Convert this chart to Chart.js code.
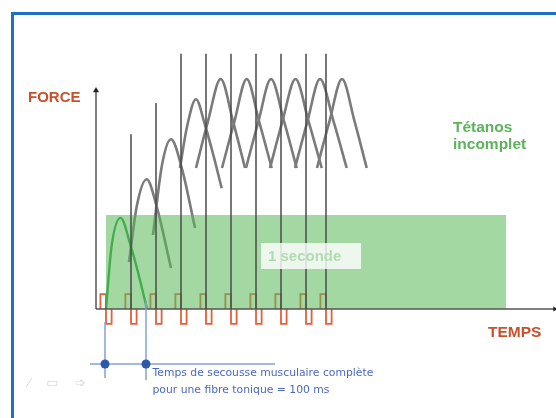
<!DOCTYPE html>
<html>
<head>
<meta charset="utf-8">
<style>
  html, body { margin: 0; padding: 0; background: #fff; overflow: hidden; }
  #wrap { position: relative; width: 556px; height: 418px; overflow: hidden; }
  #frame { position: absolute; left: 11px; top: 12px; width: 700px; height: 600px;
           border-left: 3px solid #1f6fc6; border-top: 3px solid #1f6fc6; }
  canvas { position: absolute; left: 0; top: 0; }
  .lbl { position: absolute; white-space: nowrap; font-family: "Liberation Sans", Arial, sans-serif; font-weight: bold; }
  #force { left: 28px; top: 89px; font-size: 15px; line-height: 15px; color: #c9502a; }
  #temps { left: 488px; top: 324px; font-size: 15.5px; line-height: 15.5px; color: #c9502a; }
  #tetanos { left: 453px; top: 117.5px; font-size: 15.5px; line-height: 17.6px; color: #5cb35c; }
  #seconde { left: 261px; top: 243px; width: 93px; height: 26px; padding-left: 7px; font-size: 15px; line-height: 26px;
             color: #b3dbb3; background: rgba(255,255,255,0.8); }
  #note { left: 152.5px; top: 365px; font-family: "DejaVu Sans", sans-serif; font-weight: normal; font-size: 10.8px;
          line-height: 16.5px; color: #4a68c0; }
  #icons { left: 28px; top: 375px; font-family: "DejaVu Sans", sans-serif; font-weight: normal; font-size: 13px; color: #d8d8d8; letter-spacing: 6px; }
</style>
</head>
<body>
<div id="wrap">
  <div id="frame"></div>
  <canvas id="myChart" width="556" height="418"></canvas>
  <div class="lbl" id="force">FORCE</div>
  <div class="lbl" id="temps">TEMPS</div>
  <div class="lbl" id="tetanos">Tétanos<br>incomplet</div>
  <div class="lbl" id="seconde">1 seconde</div>
  <div class="lbl" id="note">Temps de secousse musculaire complète<br>pour une fibre tonique = 100 ms</div>
  <div class="lbl" id="icons">⁄ ▭ ➩</div>
</div>

<script src="https://cdn.jsdelivr.net/npm/chart.js"></script>
<script>
// data (time in ms, force in % of the plateau peak)
const pulseTimes = [0, 62.5, 125, 187.5, 250, 312.5, 375, 437.5, 500, 550];
const stimTimes = [62.5, 125, 187.5, 250, 312.5, 375, 437.5, 500, 550];
const stimHeights = [76, 89.6, 111, 111, 111, 111, 111, 111, 111];

// each twitch: [time, force]
const twitch1 = [[0, 0], [13.75, 27], [36.25, 39.6], [62.5, 27], [80.75, 15.5], [102.5, 0]];
const twitch2 = [[57.5, 20.4], [77.5, 45.2], [101.75, 56.4], [126.75, 44.5], [162.5, 17.8]];
const twitch3 = [[117.5, 32.2], [140, 62.6], [162.5, 73.8], [190.75, 60.4], [222.5, 35.2]];
const twitch4 = [[185, 61.3], [201.75, 78.6], [225, 91.2], [247.5, 80], [268.25, 67], [289.25, 52.5]];
const twitch5 = [[225, 61.3], [255, 81.7], [286.75, 100], [317.5, 81.7], [347.5, 61.3]];
const twitch6 = [[290, 61.3], [321.25, 81.7], [351.75, 100], [382.5, 81.7], [414.25, 61.3]];
const twitch7 = [[350, 61.3], [381.25, 81.7], [412.5, 100], [445, 81.7], [476.75, 61.3]];
const twitch8 = [[410, 61.3], [441.25, 81.7], [473.75, 100], [506.25, 81.7], [539.25, 61.3]];
const twitch9 = [[472.5, 61.3], [503.75, 81.7], [535, 100], [568.75, 81.7], [601.75, 61.3]];
const twitch10 = [[527.5, 61.3], [558.75, 81.7], [590, 100], [621.25, 81.7], [651.75, 61.3]];
const grayTwitches = [twitch2, twitch3, twitch4, twitch5, twitch6, twitch7, twitch8, twitch9, twitch10];

const oneSecond = [0, 1000];
const oneSecondLevel = 40.9;
const twitchMark = [-2.5, 100];   // 100 ms
const markLevel = -23.9;

const pulseW = 14, pulseA = 6.5;
const pts = arr => arr.map(p => ({x: p[0], y: p[1]}));

const datasets = [];

pulseTimes.forEach(t => {
  datasets.push({
    data: [{x: t - pulseW, y: 0}, {x: t - pulseW, y: pulseA}, {x: t, y: pulseA}, {x: t, y: -pulseA},
           {x: t + pulseW, y: -pulseA}, {x: t + pulseW, y: 0}],
    borderColor: '#e2603a', borderWidth: 1.8, tension: 0, order: 10
  });
});

grayTwitches.forEach(tw => {
  datasets.push({
    data: pts(tw), borderColor: '#7b7b7b', borderWidth: 2.6,
    cubicInterpolationMode: 'monotone', order: 9
  });
});

datasets.push({
  data: pts(twitch1), borderColor: '#2aa040', borderWidth: 2.4,
  cubicInterpolationMode: 'monotone', order: 8
});

// 1 seconde box
datasets.push({
  data: [{x: oneSecond[0], y: 0}, {x: oneSecond[0], y: oneSecondLevel},
         {x: oneSecond[1], y: oneSecondLevel}, {x: oneSecond[1], y: 0}],
  borderWidth: 0, fill: 'origin', backgroundColor: 'rgba(88,184,88,0.55)', tension: 0, order: 7
});

// axes
datasets.push({
  data: [{x: -25, y: 0}, {x: -25, y: 95}], borderColor: '#555', borderWidth: 1.5,
  pointRadius: [0, 3.5], pointStyle: 'triangle', pointBackgroundColor: '#222', pointBorderWidth: 0, order: 6
});
datasets.push({
  data: [{x: -25, y: 0}, {x: 1122, y: 0}], borderColor: '#555', borderWidth: 1.5,
  pointRadius: [0, 3], pointStyle: 'triangle', pointRotation: 90, pointBackgroundColor: '#222', pointBorderWidth: 0, order: 6
});

stimTimes.forEach((t, i) => {
  datasets.push({
    data: [{x: t, y: 0}, {x: t, y: stimHeights[i]}], borderColor: '#4a4a4a', borderWidth: 1.5, order: 5
  });
});

// 100 ms marker
datasets.push({ data: [{x: twitchMark[0], y: -5.6}, {x: twitchMark[0], y: -30}], borderColor: '#86a0d8', borderWidth: 1.5, order: 4 });
datasets.push({ data: [{x: twitchMark[1], y: 3.9}, {x: twitchMark[1], y: -31}], borderColor: '#86a0d8', borderWidth: 1.5, order: 4 });
datasets.push({ data: [{x: -40, y: markLevel}, {x: 422.5, y: markLevel}], borderColor: '#86a0d8', borderWidth: 1.5, order: 4 });
datasets.push({
  data: twitchMark.map(t => ({x: t, y: markLevel})), showLine: false,
  pointRadius: 4.5, pointBackgroundColor: '#2b5aa8', pointBorderWidth: 0, order: 3
});

datasets.forEach(d => { if (d.showLine === undefined) d.showLine = true; });

const config = {
  type: 'scatter',
  data: { datasets },
  options: {
    responsive: false,
    animation: false,
    layout: { padding: 0, autoPadding: false },
    elements: { point: { radius: 0 }, line: { fill: false } },
    scales: {
      x: { type: 'linear', min: -265, max: 1125, display: false },
      y: { type: 'linear', min: -47.39, max: 134.35, display: false }
    },
    plugins: { legend: { display: false }, tooltip: { enabled: false } }
  }
};

const myChart = new Chart(document.getElementById('myChart'), config);
</script>
</body>
</html>
